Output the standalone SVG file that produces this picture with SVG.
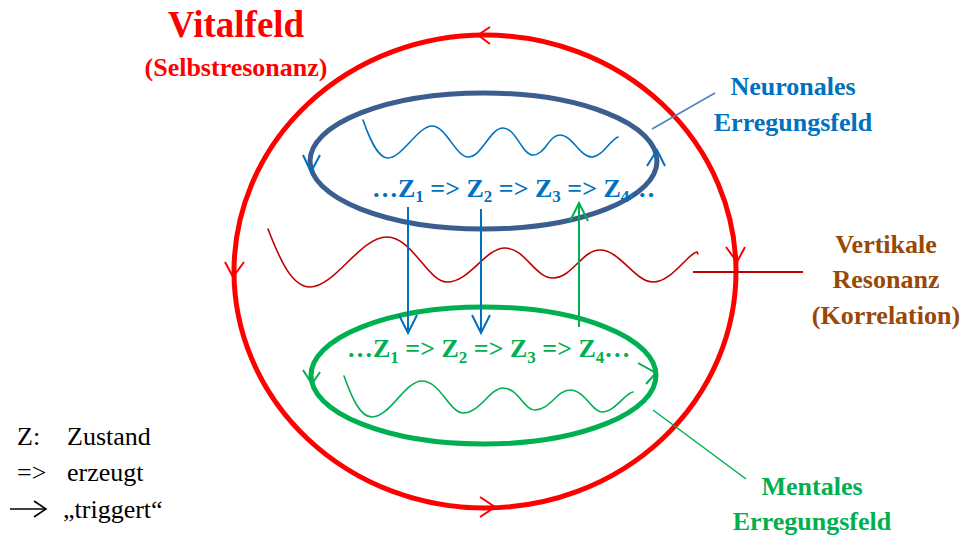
<svg xmlns="http://www.w3.org/2000/svg" width="965" height="536" viewBox="0 0 965 536" font-family="'Liberation Serif', 'DejaVu Serif', serif">
<style>
.b{font-family:'Liberation Serif','DejaVu Serif',serif;font-weight:bold;font-size:26px;}
.sub{font-size:17px;}
.leg{font-family:'Liberation Serif','DejaVu Serif',serif;font-size:26px;fill:#000;}
.red{fill:none;stroke:#FF0000;stroke-width:5;}
.redh{fill:none;stroke:#FF0000;stroke-width:2;}
.blueE{fill:none;stroke:#3B5E8E;stroke-width:5;}
.greenE{fill:none;stroke:#00B050;stroke-width:5;}
.bh{fill:none;stroke:#0070C0;stroke-width:2;}
.gh{fill:none;stroke:#00B050;stroke-width:2;}
.wave{fill:none;stroke-width:1.6;stroke-linecap:round;}
</style>
<defs>
<marker id="ab" markerUnits="userSpaceOnUse" markerWidth="24" markerHeight="24" viewBox="-20 -12 24 24" refX="0" refY="0" orient="auto">
<path d="M-18,-9 L0,0 L-18,9" fill="none" stroke="#0070C0" stroke-width="2"/>
</marker>
<marker id="ag" markerUnits="userSpaceOnUse" markerWidth="24" markerHeight="24" viewBox="-20 -12 24 24" refX="0" refY="0" orient="auto">
<path d="M-18,-9 L0,0 L-18,9" fill="none" stroke="#00B050" stroke-width="2"/>
</marker>
<marker id="ak" markerUnits="userSpaceOnUse" markerWidth="20" markerHeight="20" viewBox="-16 -10 20 20" refX="0" refY="0" orient="auto">
<path d="M-12,-8 L0,0 L-12,8" fill="none" stroke="#000" stroke-width="1.6"/>
</marker>
</defs>

<g id="vitalfeld">
<ellipse class="red" cx="485" cy="271.5" rx="251" ry="236.5"/>
<path class="redh" d="M490,27 L478,35 L490,44"/>
<path class="redh" d="M225,262 L233,277 L244,262"/>
<path class="redh" d="M726,247 L737,262 L745,247"/>
<path class="redh" d="M480,497 L495,507 L480,517"/>
<text class="b" x="236" y="37" text-anchor="middle" fill="#FF0000" style="font-size:37px">Vitalfeld</text>
<text class="b" x="236" y="76" text-anchor="middle" fill="#FF0000" style="font-size:26px">(Selbstresonanz)</text>
</g>

<g id="neuronal">
<ellipse class="blueE" cx="483.5" cy="161" rx="173.5" ry="68"/>
<path class="bh" d="M303,155 L311,172 L320,155"/>
<path class="bh" d="M647,166 L657,150 L665,166"/>
<path class="wave" stroke="#0070C0" d="M363,120 C370,140 378,158 388,158 C402,158 418,126 432,126 C446,126 456,157 468,157 C482,157 490,128 503,128 C516,128 522,155 533,155 C545,155 549,135 560,135 C572,135 580,157 592,157 C602,157 610,140 618,137"/>
<text class="b" x="372" y="197" fill="#0070C0">…Z<tspan class="sub" dy="5">1</tspan><tspan dy="-5"> =&gt; Z</tspan><tspan class="sub" dy="5">2</tspan><tspan dy="-5"> =&gt; Z</tspan><tspan class="sub" dy="5">3</tspan><tspan dy="-5"> =&gt; Z</tspan><tspan class="sub" dy="5">4</tspan><tspan dy="-5">…</tspan></text>
<line x1="652" y1="129" x2="715" y2="93" stroke="#4F81BD" stroke-width="1.5"/>
<text class="b" x="793" y="95" text-anchor="middle" fill="#0070C0">Neuronales</text>
<text class="b" x="793" y="131" text-anchor="middle" fill="#0070C0">Erregungsfeld</text>
</g>

<g id="resonanz">
<path class="wave" stroke="#C00000" d="M268,229 C280,260 292,287 310,287 C335,287 360,237 387,237 C412,237 428,282 447,282 C470,282 485,248 505,248 C525,248 535,278 553,278 C572,278 582,250 600,250 C620,250 635,282 653,282 C672,282 688,253 697,252 L698,254"/>
<line x1="693" y1="272" x2="803" y2="272" stroke="#C00000" stroke-width="2"/>
<text class="b" x="886" y="253" text-anchor="middle" fill="#984807">Vertikale</text>
<text class="b" x="886" y="288" text-anchor="middle" fill="#984807">Resonanz</text>
<text class="b" x="886" y="324" text-anchor="middle" fill="#984807">(Korrelation)</text>
</g>

<g id="mental">
<ellipse class="greenE" cx="483.5" cy="375.5" rx="172.5" ry="68.5"/>
<path class="gh" d="M303,370 L312,384 L320,372"/>
<path class="gh" d="M638,363 L656,373 L646,384"/>
<path class="wave" stroke="#00B050" d="M344,376 C352,398 360,417 372,417 C390,417 405,381 422,381 C440,381 450,413 463,413 C480,413 490,388 503,388 C518,388 524,410 535,410 C550,410 557,390 570,390 C585,390 592,412 602,412 C615,412 625,393 633,392"/>
<text class="b" x="347" y="357" fill="#00B050">…Z<tspan class="sub" dy="6">1</tspan><tspan dy="-6"> =&gt; Z</tspan><tspan class="sub" dy="6">2</tspan><tspan dy="-6"> =&gt; Z</tspan><tspan class="sub" dy="6">3</tspan><tspan dy="-6"> =&gt; Z</tspan><tspan class="sub" dy="6">4</tspan><tspan dy="-6">…</tspan></text>
<line x1="653" y1="410" x2="746" y2="479" stroke="#00B050" stroke-width="1.5"/>
<text class="b" x="812" y="495" text-anchor="middle" fill="#00B050">Mentales</text>
<text class="b" x="812" y="530" text-anchor="middle" fill="#00B050">Erregungsfeld</text>
</g>

<g id="connectors">
<line x1="408" y1="207" x2="408" y2="333" stroke="#0070C0" stroke-width="2" marker-end="url(#ab)"/>
<line x1="481" y1="209" x2="481" y2="333" stroke="#0070C0" stroke-width="2" marker-end="url(#ab)"/>
<line x1="579" y1="327" x2="579" y2="203" stroke="#00B050" stroke-width="2" marker-end="url(#ag)"/>
</g>

<g id="legend">
<text class="leg" x="17" y="445">Z:</text>
<text class="leg" x="67" y="445">Zustand</text>
<text class="leg" x="17" y="481">=&gt;</text>
<text class="leg" x="67" y="481">erzeugt</text>
<line x1="10" y1="509" x2="46" y2="509" stroke="#000" stroke-width="1.6" marker-end="url(#ak)"/>
<text class="leg" x="63" y="518">„triggert“</text>
</g>
</svg>
